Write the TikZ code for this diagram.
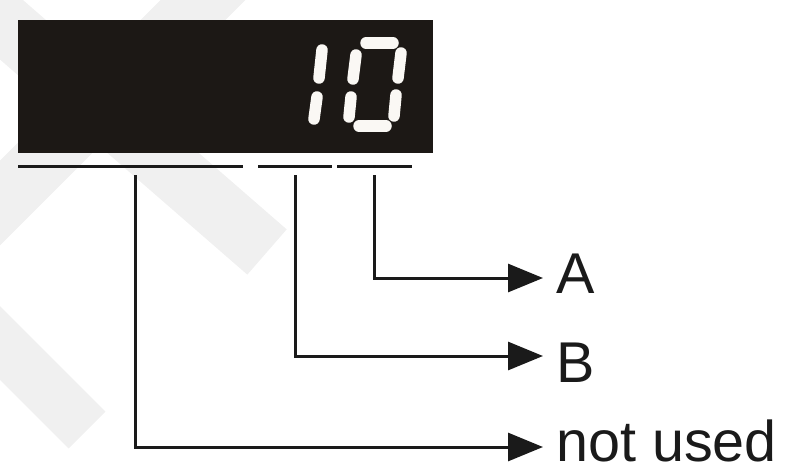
\documentclass[tikz,border=0pt]{standalone}
\usepackage{fontspec}
\setmainfont{Liberation Sans}
\usetikzlibrary{arrows.meta}
\definecolor{lcd}{RGB}{28,24,21}
\definecolor{wm}{RGB}{240,240,240}
\definecolor{seg}{RGB}{250,248,244}
\definecolor{ink}{RGB}{26,26,26}
\begin{document}
\begin{tikzpicture}[x=1pt,y=-1pt,
  conn/.style={line width=3pt, ink},
  arr/.style={conn, -{Triangle[length=35pt,width=28pt]}},
  ul/.style={line width=3pt, ink},
  segm/.style={line width=11.5pt, line cap=round, seg},
  lbl/.style={anchor=base west, inner sep=0pt, text=ink, font=\fontsize{57.5}{60}\selectfont},
  band/.style={wm}]
\useasboundingbox (0,0) rectangle (789,469);
% watermark bands
\begin{scope}
\clip (0,0) rectangle (789,469);
\draw[band, line width=60pt] (-40,-15) -- (267,252);
\draw[band, line width=60pt] (-60,263) -- (230,-27);
\draw[band, line width=52pt] (-60,283) -- (87,430);
\end{scope}
% display
\node[fill=lcd, minimum width=415pt, minimum height=133pt, inner sep=0pt, anchor=north west] (disp) at (18,20) {};
% digit 1
\draw[segm] (322,50) -- (319,78);
\draw[segm] (317,97) -- (314,119);
% digit 0
\draw[segm] (366,43) -- (393,43);
\draw[segm] (356,55) -- (353,79);
\draw[segm] (401,53) -- (398,78);
\draw[segm] (351,97) -- (349,117);
\draw[segm] (396,95) -- (394,116);
\draw[segm] (359,126) -- (386,126);
% underlines
\coordinate (u1a) at (18,166); \coordinate (u1b) at (243,166);
\coordinate (u2a) at (258,166); \coordinate (u2b) at (332,166);
\coordinate (u3a) at (337,166); \coordinate (u3b) at (412,166);
\draw[ul] (u1a) -- (u1b);
\draw[ul] (u2a) -- (u2b);
\draw[ul] (u3a) -- (u3b);
% connector starts and ends
\coordinate (pA) at (374,175);
\coordinate (pB) at (295,175);
\coordinate (pN) at (135,175);
\coordinate (eA) at (543,278);
\coordinate (eB) at (543,356);
\coordinate (eN) at (543,447);
% labels
\node[lbl] (tA) at (556,293) {A};
\node[lbl] (tB) at (556,382) {B};
\node[lbl] (tN) at (556,461) {not used};
% connectors
\draw[arr] (pA) |- (eA);
\draw[arr] (pB) |- (eB);
\draw[arr] (pN) |- (eN);
\end{tikzpicture}
\end{document}
